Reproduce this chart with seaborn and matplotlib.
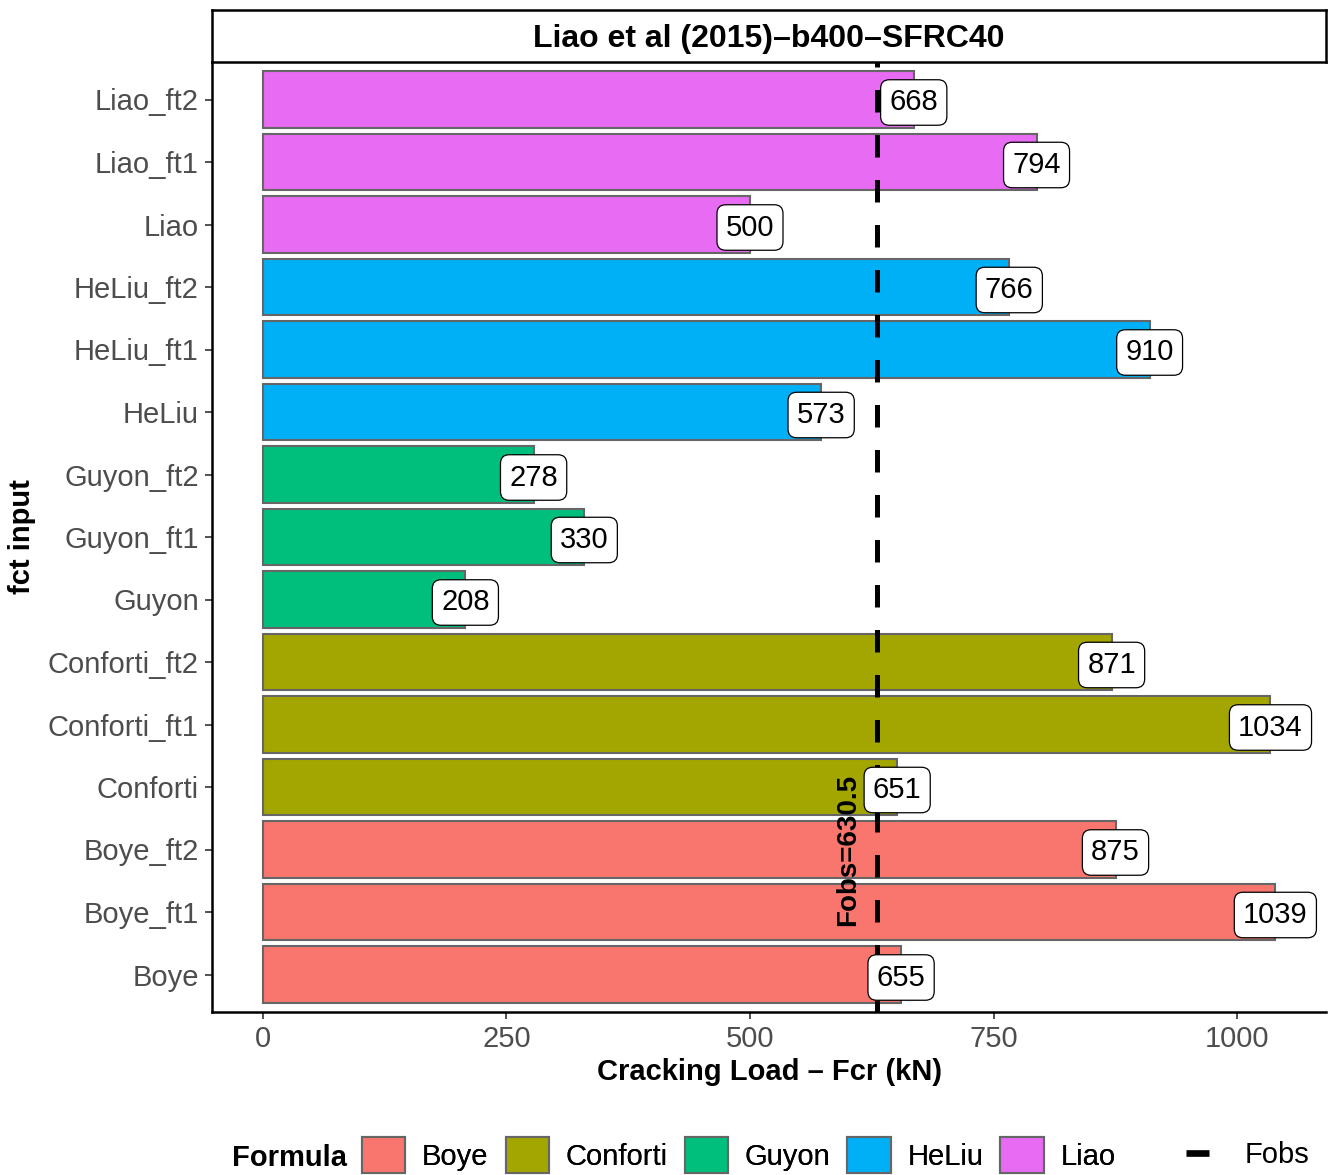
import matplotlib
matplotlib.use("Agg")
import matplotlib.pyplot as plt
from matplotlib.patches import Patch
from matplotlib.lines import Line2D
import seaborn as sns
import pandas as pd

sns.set_theme(style="white")
plt.rcParams["font.family"] = ["Liberation Sans", "DejaVu Sans"]
plt.rcParams["text.color"] = "black"

# Categories listed top to bottom
inputs = ["Liao_ft2", "Liao_ft1", "Liao",
          "HeLiu_ft2", "HeLiu_ft1", "HeLiu",
          "Guyon_ft2", "Guyon_ft1", "Guyon",
          "Conforti_ft2", "Conforti_ft1", "Conforti",
          "Boye_ft2", "Boye_ft1", "Boye"]
formulas = ["Liao", "Liao", "Liao",
            "HeLiu", "HeLiu", "HeLiu",
            "Guyon", "Guyon", "Guyon",
            "Conforti", "Conforti", "Conforti",
            "Boye", "Boye", "Boye"]
fcr = [668, 794, 500, 766, 910, 573, 278, 330, 208, 871, 1034, 651, 875, 1039, 655]
fobs = 630.5
title = "Liao et al (2015)\u2013b400\u2013SFRC40"

formula_order = ["Boye", "Conforti", "Guyon", "HeLiu", "Liao"]
palette = dict(zip(formula_order, ["#F8766D", "#A3A500", "#00BF7D", "#00B0F6", "#E76BF3"]))

df = pd.DataFrame({"input": inputs, "Formula": formulas, "Fcr": fcr})

FS = 21
W, H = 1328, 1175
fig = plt.figure(figsize=(W / 100, H / 100), dpi=100)
ax = fig.add_axes([212 / W, (H - 1012) / H, (1326 - 212) / W, 950 / H])

sns.barplot(data=df, x="Fcr", y="input", hue="Formula", order=inputs,
            hue_order=formula_order, palette=palette, dodge=False,
            width=0.9, edgecolor="#666666", linewidth=1.5, saturation=1,
            legend=False, ax=ax)

ax.set_xlim(-51.95, 1090.95)
ax.set_ylim(len(inputs) - 0.4, -0.6)
ax.set_xticks([0, 250, 500, 750, 1000])
ax.tick_params(axis="both", labelsize=FS, labelcolor="#4D4D4D", color="#333333",
               length=5, width=1.2, direction="out", bottom=True, left=True, pad=4.5)

for s in ["top", "right"]:
    ax.spines[s].set_visible(False)
for s in ["left", "bottom"]:
    ax.spines[s].set_color("black")
    ax.spines[s].set_linewidth(1.8)

ax.set_xlabel("Cracking Load \u2013 Fcr (kN)", fontsize=FS, fontweight="bold",
              color="black", va="center")
ax.xaxis.set_label_coords((770 - 212) / 1114, (1012 - 1072) / 950)
ax.set_ylabel("fct input", fontsize=FS, fontweight="bold", color="black", va="center")
ax.yaxis.set_label_coords((22 - 212) / 1114, 0.5)

# observed cracking load
ax.axvline(fobs, color="black", lw=3.6, ls=(0, (4.5, 4.5)), zorder=3)
ax.text(fobs - 30, 12, f"Fobs={fobs}", rotation=90, ha="center", va="center",
        fontsize=20, fontweight="bold", color="black", zorder=4)

# value labels
for i, v in enumerate(fcr):
    ax.text(v, i, f"{v}", ha="center", va="center_baseline", fontsize=FS,
            color="black", zorder=5,
            bbox=dict(boxstyle="round,pad=0.3,rounding_size=0.3", fc="white",
                      ec="black", lw=0.9))

# facet strip
sax = fig.add_axes([212 / W, (H - 62) / H, (1326 - 212) / W, 52 / H])
sax.set_xticks([])
sax.set_yticks([])
sax.set_facecolor("white")
for s in sax.spines.values():
    s.set_color("black")
    s.set_linewidth(1.8)
sax.text(0.5, 0.5, title, ha="center", va="center_baseline", fontsize=23,
         fontweight="bold", color="black", transform=sax.transAxes)

# legends
ly = 1 - 1155 / H
fig.text(232 / W, ly, "Formula", fontsize=FS, fontweight="bold", color="black",
         ha="left", va="center_baseline")
fill_handles = [Patch(facecolor=palette[f], edgecolor="#666666", lw=1.5, label=f)
                for f in formula_order]
leg1 = fig.legend(handles=fill_handles, loc="center left",
                  bbox_to_anchor=(362 / W, ly), ncol=5, frameon=False,
                  fontsize=FS, labelcolor="black", handlelength=1.48,
                  handleheight=1.48, handletextpad=0.58, columnspacing=0.58,
                  borderaxespad=0, borderpad=0)
fig.legend(handles=[Line2D([0], [0], color="black", lw=4.8, label="Fobs",
                           solid_capstyle="butt")],
           loc="center left", bbox_to_anchor=(1186 / W, ly),
           frameon=False, fontsize=FS, labelcolor="black", handlelength=0.8,
           handletextpad=1.2, borderaxespad=0, borderpad=0)
fig.add_artist(leg1)

fig.savefig("out.png", dpi=100)
